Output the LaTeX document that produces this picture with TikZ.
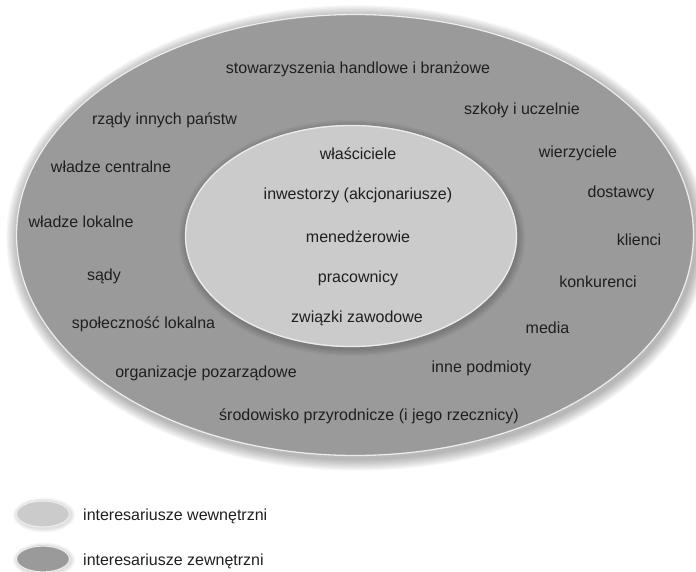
\documentclass[tikz,border=0pt]{standalone}
\usepackage{fontspec}
\setmainfont{Liberation Sans}
\begin{document}
\begin{tikzpicture}[x=1pt,y=-1pt,
  lbl/.style={font=\fontsize{16}{18}\selectfont, text=black!88, inner sep=0pt, text height=12pt, text depth=2pt, anchor=center},
  leg/.style={lbl, anchor=west}]
\useasboundingbox (0,0) rectangle (696,572);
\definecolor{outerg}{RGB}{154,154,154}
\definecolor{innerg}{RGB}{203,203,203}
\definecolor{rimg}{RGB}{236,236,236}
% soft shadow of outer ellipse
\foreach \i in {1,...,9}{
  \fill[black, opacity=0.035] (357,238) ellipse ({339+1.3*\i} and {221+1.3*\i});
}
\fill[outerg] (355,235) ellipse (339 and 221);
\draw[rimg, line width=1.3pt] (355,235) ellipse (338.5 and 220.5);
% soft shadow of inner ellipse
\foreach \i in {1,...,6}{
  \fill[black, opacity=0.03] (352,238) ellipse ({166+1.2*\i} and {111+1.2*\i});
}
\fill[innerg] (351,236) ellipse (166 and 111);
\draw[rimg, line width=1.3pt] (351,236) ellipse (165.5 and 110.5);
% inner texts
\node[lbl] (wla) at (358,155) {właściciele};
\node[lbl] (inw) at (358,195) {inwestorzy (akcjonariusze)};
\node[lbl] (men) at (358,237) {menedżerowie};
\node[lbl] (pra) at (358,277) {pracownicy};
\node[lbl] (zwi) at (357,317) {związki zawodowe};
% outer texts
\node[lbl] (sto) at (358,69) {stowarzyszenia handlowe i branżowe};
\node[lbl] (rza) at (164.5,120) {rządy innych państw};
\node[lbl] (szk) at (522,110) {szkoły i uczelnie};
\node[lbl] (wce) at (111,168) {władze centralne};
\node[lbl] (wie) at (578,153) {wierzyciele};
\node[lbl] (dos) at (621,193) {dostawcy};
\node[lbl] (wlo) at (81,223) {władze lokalne};
\node[lbl] (kli) at (639,240) {klienci};
\node[lbl] (sad) at (104,275) {sądy};
\node[lbl] (kon) at (598,282) {konkurenci};
\node[lbl] (spo) at (143.5,323) {społeczność lokalna};
\node[lbl] (med) at (547.5,328) {media};
\node[lbl] (org) at (206,372) {organizacje pozarządowe};
\node[lbl] (inn) at (481.5,367) {inne podmioty};
\node[lbl] (sro) at (369,415) {środowisko przyrodnicze (i jego rzecznicy)};
% legend
\foreach \yy in {514,559}{
  \foreach \i in {1,...,4}{
    \fill[black, opacity=0.03] (44,\yy+1) ellipse ({27+\i} and {13.5+\i});
  }
}
\fill[innerg] (43,514) ellipse (27 and 13.5);
\draw[rimg, line width=1.2pt] (43,514) ellipse (26.5 and 13);
\fill[outerg] (43,559) ellipse (27 and 13.5);
\draw[rimg, line width=1.2pt] (43,559) ellipse (26.5 and 13);
\node[leg] (lw) at (83,515) {interesariusze wewnętrzni};
\node[leg] (lz) at (83,560) {interesariusze zewnętrzni};
\end{tikzpicture}
\end{document}
